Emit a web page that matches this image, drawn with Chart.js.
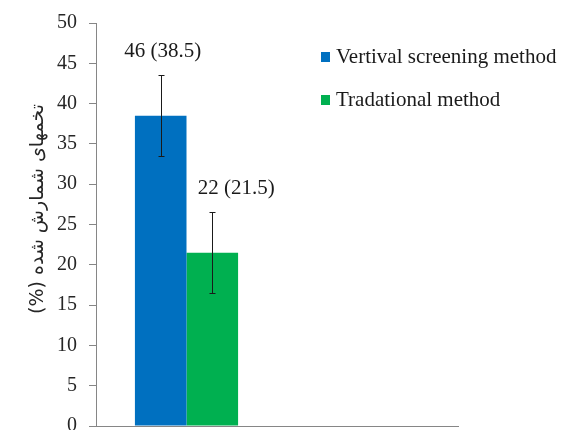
<!DOCTYPE html>
<html>
<head>
<meta charset="utf-8">
<script src="https://cdn.jsdelivr.net/npm/chart.js@4.4.1/dist/chart.umd.min.js"></script>
<style>
    html, body { margin: 0; padding: 0; background: #ffffff; }
    #contenedor { width: 561px; height: 430px; }
</style>
</head>
<body>
<div id="contenedor"><canvas id="graficoMetodos"></canvas></div>
<script>
// Datos del gráfico
const categorias = ["", ""];
const metodos = ["Vertival screening method", "Tradational method"];
const valoresVertical = [38.5, null];
const valoresTradicional = [21.5, null];
const errores = [5, 5];
const etiquetas = ["46 (38.5)", "22 (21.5)"];
const tituloY = "تخمهای شمارش شده (%)";

const colores = ["#0070C0", "#00B050"];
const fuenteSerif = "'Liberation Serif', 'Times New Roman', serif";

// Barras de error y etiquetas encima de cada barra
const barrasError = {
    id: "barrasError",
    afterDatasetsDraw(chart) {
        const ctx = chart.ctx;
        const escalaY = chart.scales.y;
        const desplazamientos = [2, 24];
        ctx.save();
        chart.data.datasets.forEach((ds, i) => {
            const barra = chart.getDatasetMeta(i).data[0];
            const v = ds.data[0];
            const arriba = escalaY.getPixelForValue(v + errores[i]);
            const abajo = escalaY.getPixelForValue(v - errores[i]);
            const x = Math.round(barra.x) + 0.5;
            ctx.strokeStyle = "#1a1a1a";
            ctx.lineWidth = 1;
            ctx.beginPath();
            ctx.moveTo(x, arriba); ctx.lineTo(x, abajo);
            ctx.moveTo(x - 3, Math.round(arriba) + 0.5); ctx.lineTo(x + 3, Math.round(arriba) + 0.5);
            ctx.moveTo(x - 3, Math.round(abajo) + 0.5); ctx.lineTo(x + 3, Math.round(abajo) + 0.5);
            ctx.stroke();

            ctx.fillStyle = "#1a1a1a";
            ctx.font = "21px " + fuenteSerif;
            ctx.textAlign = "center";
            ctx.textBaseline = "middle";
            ctx.fillText(etiquetas[i], barra.x + desplazamientos[i], arriba - 24);
        });
        ctx.restore();
    }
};

// Leyenda dentro del área del gráfico y título vertical del eje Y
const leyenda = {
    id: "leyendaInterna",
    afterDraw(chart) {
        const ctx = chart.ctx;
        const filas = [57, 100];
        ctx.save();
        ctx.font = "21px " + fuenteSerif;
        ctx.textBaseline = "middle";
        ctx.textAlign = "left";
        chart.data.datasets.forEach((ds, i) => {
            ctx.fillStyle = ds.backgroundColor;
            ctx.fillRect(321, filas[i] - 5, 9, 10);
            ctx.fillStyle = "#1a1a1a";
            ctx.fillText(ds.label, 336, filas[i]);
        });
        ctx.restore();

        // título en persa, girado 90°
        ctx.save();
        ctx.translate(38, 209);
        ctx.rotate(-Math.PI / 2);
        ctx.direction = "rtl";
        ctx.font = "19px 'DejaVu Sans', sans-serif";
        ctx.fillStyle = "#262626";
        ctx.textAlign = "center";
        ctx.textBaseline = "middle";
        ctx.fillText(tituloY, 0, 0);
        ctx.restore();
    }
};

const ctx = document.getElementById("graficoMetodos").getContext("2d");

new Chart(ctx, {
    type: "bar",
    data: {
        labels: categorias,
        datasets: [
            {
                label: metodos[0],
                data: valoresVertical,
                backgroundColor: colores[0],
                barPercentage: 1.0,
                categoryPercentage: 0.57
            },
            {
                label: metodos[1],
                data: valoresTradicional,
                backgroundColor: colores[1],
                barPercentage: 1.0,
                categoryPercentage: 0.57
            }
        ]
    },
    options: {
        responsive: true,
        maintainAspectRatio: false,
        animation: false,
        layout: { padding: { top: 23, right: 103, bottom: 4, left: 0 } },
        plugins: {
            legend: { display: false },
            tooltip: { enabled: false }
        },
        scales: {
            x: {
                ticks: { display: false },
                grid: { display: false },
                border: { display: true, color: "#868686", width: 1 },
                afterFit(scale) {
                    scale.height = 0;
                    scale.paddingLeft = 0;
                    scale.paddingRight = 0;
                }
            },
            y: {
                min: 0,
                max: 50,
                ticks: {
                    stepSize: 5,
                    color: "#262626",
                    padding: 12,
                    font: { family: fuenteSerif, size: 20 }
                },
                grid: {
                    drawOnChartArea: false,
                    drawTicks: true,
                    tickLength: 7,
                    color: "#868686"
                },
                border: { display: true, color: "#868686", width: 1 },
                afterFit(scale) {
                    scale.width = 96;
                    scale.paddingTop = 0;
                    scale.paddingBottom = 0;
                }
            }
        }
    },
    plugins: [barrasError, leyenda]
});
</script>
</body>
</html>
